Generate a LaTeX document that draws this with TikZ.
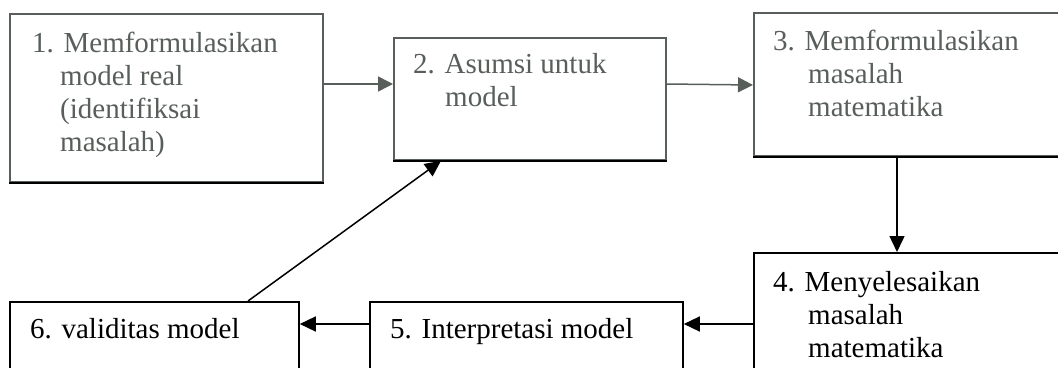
\documentclass[tikz,border=0pt]{standalone}
\usepackage{fontspec}
\setmainfont{Liberation Serif}
\usetikzlibrary{arrows.meta}
\definecolor{topgray}{RGB}{88,94,90}
\tikzset{
  boxa/.style={draw=topgray, line width=1.8bp, inner sep=0pt, anchor=north west},
  boxb/.style={draw=black, line width=1.8bp, inner sep=0pt, anchor=north west},
  lbl/.style={anchor=base west, inner sep=0pt, align=left, font=\fontsize{29bp}{33bp}\selectfont},
  arr/.style={line width=1.5bp, -{Triangle[length=16bp,width=15bp]}},
}
\begin{document}
\begin{tikzpicture}[x=1bp,y=-1bp]
\useasboundingbox (0,0) rectangle (1058,367);
\clip (0,0) rectangle (1058,367);
% boxes
\node[boxa, minimum width=313bp, minimum height=168bp] (b1) at (9,13) {};
\node[boxa, minimum width=272bp, minimum height=122bp] (b2) at (393,37) {};
\node[boxa, minimum width=330bp, minimum height=143bp] (b3) at (753,12) {};
\node[boxb, minimum width=330bp, minimum height=140bp] (b4) at (753,252) {};
\node[boxb, minimum width=313bp, minimum height=90bp] (b5) at (369,301) {};
\node[boxb, minimum width=289bp, minimum height=90bp] (b6) at (9,301) {};
% black bottom edges of the top boxes
\draw[line width=1.8bp] (b1.south west) -- (b1.south east);
\draw[line width=1.8bp] (b2.south west) -- (b2.south east);
\draw[line width=1.8bp] (b3.south west) -- (b3.south east);
% texts (anchored at the baseline of the last line)
\node[lbl, text=topgray] (t1) at (32,151) {1. Memformulasikan\\\hspace*{28bp}model real\\\hspace*{28bp}(identifiksai\\\hspace*{28bp}masalah)};
\node[lbl, text=topgray] (t2) at (413,106) {2. Asumsi untuk\\\hspace*{32bp}model};
\node[lbl, text=topgray] (t3) at (773,116) {3. Memformulasikan\\\hspace*{35bp}masalah\\\hspace*{35bp}matematika};
\node[lbl] (t4) at (773,357) {4. Menyelesaikan\\\hspace*{35bp}masalah\\\hspace*{35bp}matematika};
\node[lbl] (t5) at (390,338) {5. Interpretasi model};
\node[lbl] (t6) at (30,338) {6. validitas model};
% connectors
\draw[arr, draw=topgray, -{Triangle[length=15bp,width=15bp,fill=topgray]}] (b1.east |- 0,84) -- (b2.west |- 0,84);
\draw[arr, draw=topgray, -{Triangle[length=15bp,width=15bp,fill=topgray]}] (b2.east |- 0,84) -- (b3.west |- 0,85);
\draw[arr] (897,0 |- b3.south) -- (897,0 |- b4.north);
\draw[arr] (b4.west |- 0,324) -- (b5.east |- 0,324);
\draw[arr] (b5.west |- 0,324) -- (b6.east |- 0,324);
\draw[arr] (248,0 |- b6.north) -- (441,0 |- b2.south);
\end{tikzpicture}
\end{document}
